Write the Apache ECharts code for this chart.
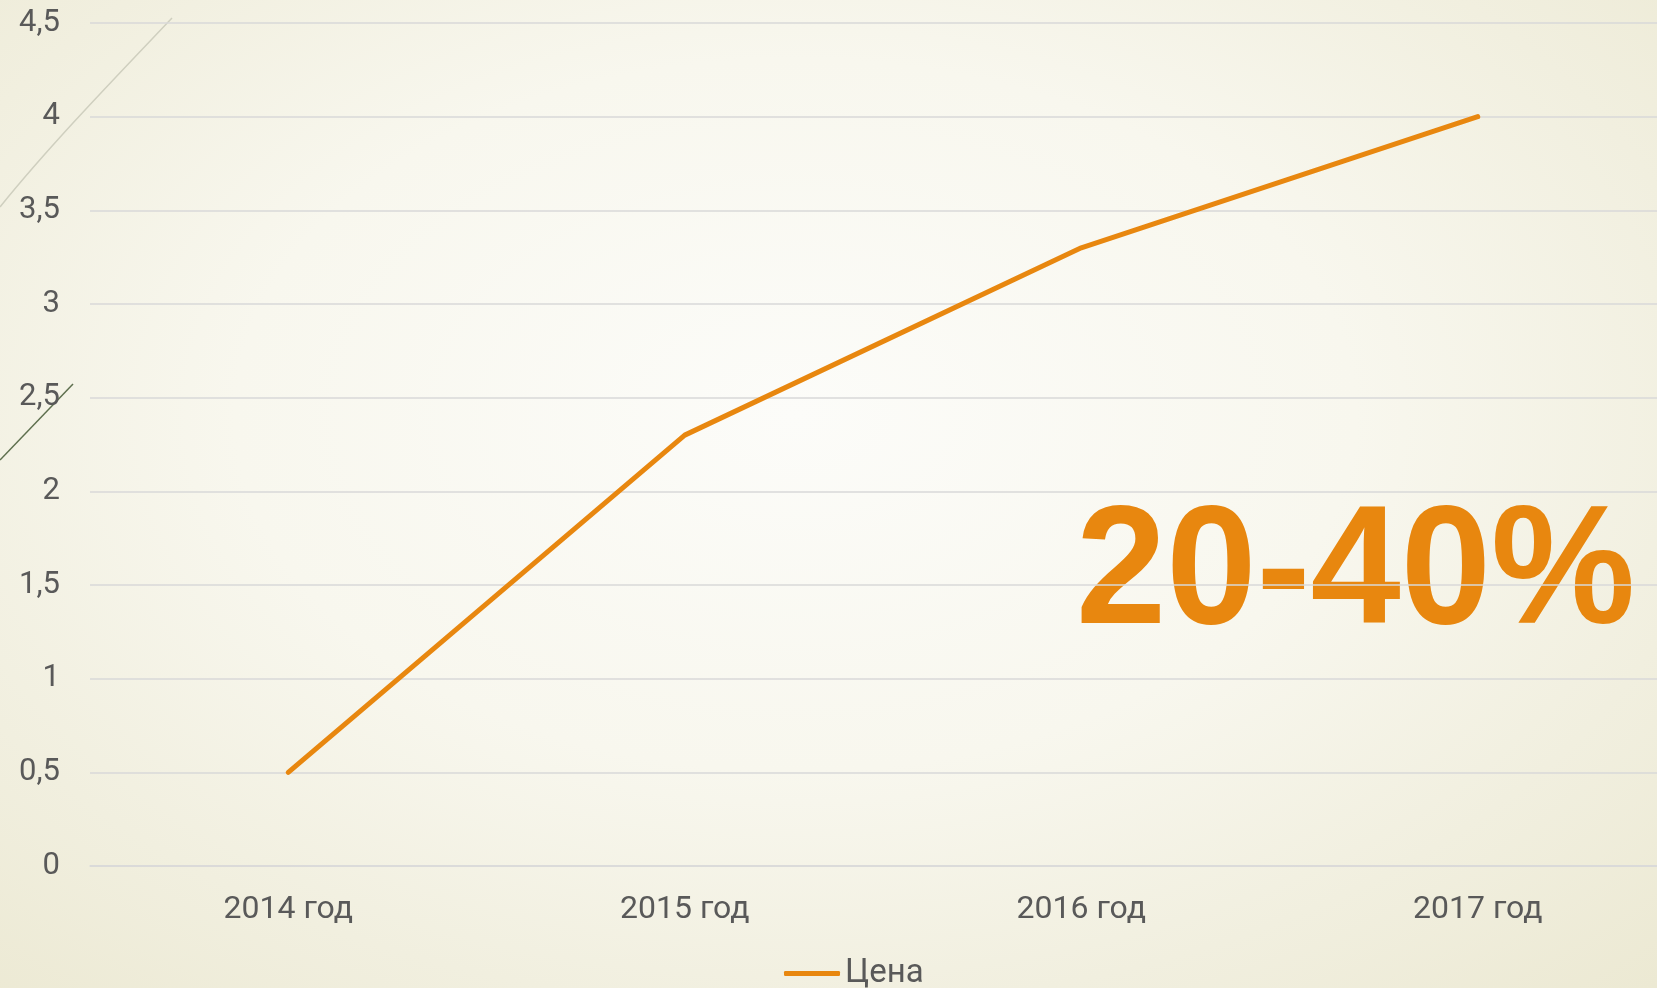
<!DOCTYPE html>
<html>
<head>
<meta charset="utf-8">
<script src="https://cdn.jsdelivr.net/npm/echarts@6/dist/echarts.min.js"></script>
<style>
html,body{margin:0;padding:0;width:1657px;height:988px;overflow:hidden;}
body{background:radial-gradient(ellipse 75% 80% at 48% 42%, #FCFCF9 0%, #F8F7EE 45%, #F1EFDF 75%, #ECE9D3 100%);}
#chart{width:1676px;height:988px;}
</style>
</head>
<body>
<div id="chart"></div>
<script>
const categories = ['2014 год', '2015 год', '2016 год', '2017 год'];
const seriesName = 'Цена';
const priceValues = [0.5, 2.3, 3.3, 4.0];
const highlightText = '20-40%';

const chart = echarts.init(document.getElementById('chart'), null, {renderer: 'canvas'});
const textColor = '#595959';
const orange = '#E8870F';

chart.setOption({
  backgroundColor: 'transparent',
  animation: false,
  grid: {left: 90, right: 0, top: 23, bottom: 122, containLabel: false, outerBoundsMode: 'none'},
  xAxis: {
    type: 'category',
    data: categories,
    boundaryGap: true,
    axisLine: {show: true, lineStyle: {color: '#D9D9D9', width: 1.5}},
    axisTick: {show: false},
    axisLabel: {color: textColor, fontFamily: 'Roboto', fontSize: 32, margin: 28}
  },
  yAxis: {
    type: 'value',
    min: 0, max: 4.5, interval: 0.5,
    axisLine: {show: false},
    axisTick: {show: false},
    splitLine: {show: true, lineStyle: {color: '#D9D9D9', width: 1.5}},
    axisLabel: {
      color: textColor, fontFamily: 'Roboto', fontSize: 31, margin: 30,
      formatter: v => String(v).replace('.', ',')
    }
  },
  legend: {
    data: [seriesName],
    left: 779, top: 952,
    icon: 'roundRect',
    itemWidth: 56, itemHeight: 5, itemGap: 10,
    textStyle: {color: textColor, fontFamily: 'Roboto', fontSize: 33, padding: [0,0,0,0]}
  },
  series: [{
    name: seriesName,
    type: 'line',
    data: priceValues,
    showSymbol: false,
    symbol: 'none',
    color: orange,
    lineStyle: {color: orange, width: 5, cap: 'round', join: 'round'}
  }],
  graphic: [
    {
      type: 'bezierCurve',
      silent: true,
      shape: {x1: 0, y1: 207, x2: 172, y2: 18, cpx1: 50, cpy1: 145, cpx2: 115, cpy2: 78},
      style: {stroke: '#CFCFBF', lineWidth: 1.5, fill: null}
    },
    {
      type: 'line',
      silent: true,
      shape: {x1: 0, y1: 460, x2: 73, y2: 384},
      style: {stroke: '#5E6F4E', lineWidth: 1.5}
    },
    {
      type: 'text',
      silent: true,
      left: 1076, top: 492,
      scaleX: 0.96,
      style: {
        text: highlightText,
        fill: orange,
        font: 'bold 169px "Liberation Sans", Arial, sans-serif'
      }
    }
  ]
});
</script>
</body>
</html>
